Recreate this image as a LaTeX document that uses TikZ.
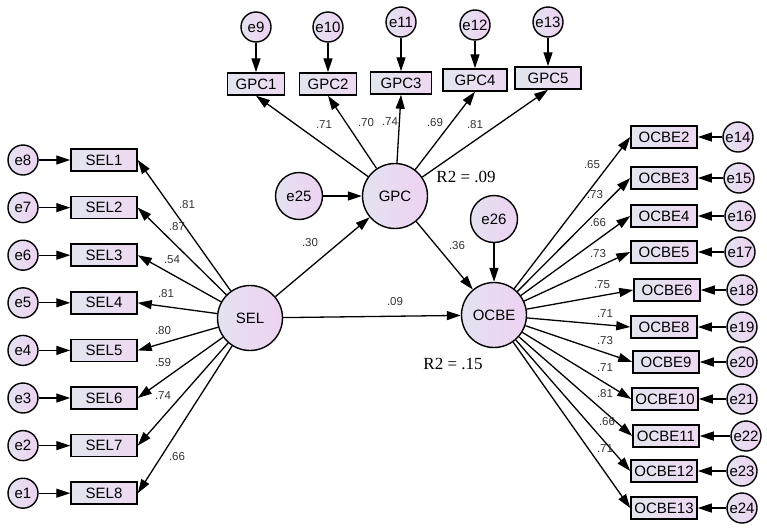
\documentclass[tikz,border=0pt]{standalone}
\usepackage{fontspec}
\setmainfont{Liberation Sans}
\newfontfamily\rtwofont{Liberation Serif}
\usetikzlibrary{arrows.meta}
\definecolor{boxleft}{RGB}{226,230,238}
\definecolor{boxright}{RGB}{238,216,242}
\definecolor{circleft}{RGB}{228,226,240}
\definecolor{circright}{RGB}{238,210,242}

\tikzset{
  obsbox/.style={draw, line width=1.5pt, left color=boxleft, right color=boxright,
    minimum width=66pt, minimum height=22pt, inner sep=0pt, font=\fontsize{15}{17}\selectfont},
  errnode/.style={draw, circle, line width=1.4pt, left color=circleft, right color=circright,
    minimum size=30pt, inner sep=0pt, font=\fontsize{15}{17}\selectfont},
  latent/.style={errnode, minimum size=65pt},
  disturb/.style={errnode, minimum size=47pt},
  arr/.style={line width=1.3pt, -{Triangle[length=14pt,width=9pt]}},
  coef/.style={font=\fontsize{11.5}{13}\selectfont, text=black!80, inner sep=1pt},
  rsq/.style={font=\rtwofont\fontsize{17}{19}\selectfont, inner sep=1pt}
}

\begin{document}
\begin{tikzpicture}[x=1pt,y=-1pt]
\useasboundingbox (0,0) rectangle (767,531);

% Latent variables
\node[latent] (SEL) at (250,318) {SEL};
\node[latent] (GPC) at (395,196) {GPC};
\node[latent] (OCBE) at (494,315) {OCBE};
\node[disturb] (e25) at (299,196) {e25};
\node[disturb] (e26) at (494,219) {e26};

% Structural paths
\draw[arr] (SEL) -- (GPC);
\draw[arr] (SEL) -- (OCBE);
\draw[arr] (GPC) -- (OCBE);
\draw[arr] (e25) -- (GPC);
\draw[arr] (e26) -- (OCBE);

% SEL items
\foreach \i/\e in {1/8,2/7,3/6,4/5,5/4,6/3,7/2,8/1} {
    \node[obsbox] (SEL\i) at (104,{160+(\i-1)*47.6}) {SEL\i};
    \node[errnode] (e\e) at (23,{160+(\i-1)*47.6}) {e\e};
    \draw[arr] (e\e) -- (SEL\i);
    \draw[arr] (SEL) -- (SEL\i.east);
}

% GPC items
\foreach \i/\x/\y/\w/\e/\ey in {1/256/84/57/9/27,2/328/84/57/10/27,3/401/83/61/11/22,
                                4/475/80/64/12/25,5/548/78/66/13/22} {
    \node[obsbox, minimum width=\w pt] (GPC\i) at (\x,\y) {GPC\i};
    \node[errnode] (e\e) at (\x,\ey) {e\e};
    \draw[arr] (e\e) -- (GPC\i);
    \draw[arr] (GPC) -- (GPC\i.south);
}

% OCBE items
\foreach \i/\x/\y/\e/\ex in {2/664/137/14/738,3/664/178/15/739,4/664/216/16/740,
                             5/664/252/17/740,6/667/290/18/742,8/664/327/19/742,
                             9/666/362/20/742,10/665/399/21/742,11/666/436/22/746,
                             12/664/471/23/742,13/664/508/24/742} {
    \node[obsbox] (OCBE\i) at (\x,\y) {OCBE\i};
    \node[errnode] (e\e) at (\ex,\y) {e\e};
    \draw[arr] (e\e) -- (OCBE\i);
    \draw[arr] (OCBE) -- (OCBE\i.west);
}

% Coefficients
\foreach \v/\x/\y [count=\k] in {.71/324/125,.70/366/123,.74/390/122,.69/435/123,.81/475/125,
    .30/310/243,.36/457/246,.09/395/302,
    .81/187/205,.87/177/227,.54/172/260,.81/166/294,.80/163/331,.59/163/363,.74/163/396,.66/177/457,
    .65/592/165,.73/595/195,.66/598/223,.73/598/254,.75/602/285,.71/605/314,
    .73/605/341,.71/605/368,.81/605/394,.66/607/422,.71/605/449} {
    \node[coef] (c\k) at (\x,\y) {\v};
}

% R2
\node[rsq] (rgpc) at (466,177) {R2 = .09};
\node[rsq] (rocbe) at (453,364) {R2 = .15};
\end{tikzpicture}
\end{document}
